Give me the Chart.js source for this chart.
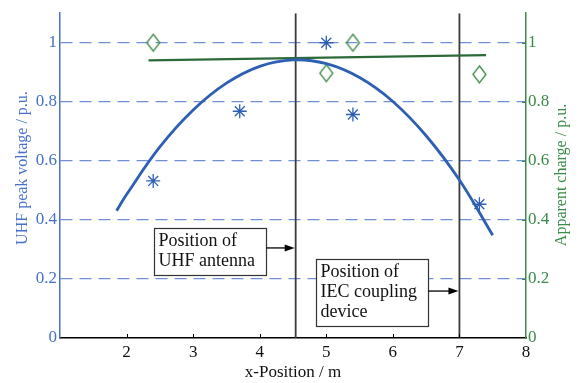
<!DOCTYPE html>
<html lang="en">
<head>
<meta charset="UTF-8">
<title>UHF peak voltage and apparent charge vs x-position</title>
<script src="https://cdn.jsdelivr.net/npm/chart.js"></script>
<style>
  html, body { margin: 0; padding: 0; background: #fff; }
</style>
</head>
<body>
<canvas id="posChart" width="579" height="383"></canvas>
<script>
// data
const fitX = [1.85, 2.0, 2.5, 3.0, 3.5, 4.0, 4.5, 5.0, 5.5, 6.0, 6.5, 7.0, 7.5];
const fitUHF = [0.431, 0.486, 0.647, 0.772, 0.863, 0.920, 0.942, 0.929, 0.882, 0.801, 0.685, 0.535, 0.348];

const measX = [2.4, 3.7, 5.0, 5.4, 7.3];
const measUHF = [0.532, 0.768, 1.0, 0.757, 0.453];

const chargeX = [2.4, 5.0, 5.4, 7.3];
const charge = [1.0, 0.897, 1.0, 0.893];

const chargeFitX = [2.33, 7.4];
const chargeFit = [0.940, 0.958];

const markerX = [4.54, 7.0]; // UHF antenna, IEC coupling device

const xTicks = [2, 3, 4, 5, 6, 7, 8];
const yTicks = [0, 0.2, 0.4, 0.6, 0.8, 1];

// annotation boxes, in data units
const notes = [
  { lines: ['Position of', 'UHF antenna'], x0: 2.41, x1: 4.09, y0: 0.373, y1: 0.215, arrowY: 0.305, target: markerX[0] },
  { lines: ['Position of', 'IEC coupling', 'device'], x0: 4.85, x1: 6.53, y0: 0.266, y1: 0.040, arrowY: 0.159, target: markerX[1] }
];

const BLUE = '#2d5fb3';
const BLUE_TXT = '#4671c6';
const GRID = '#6f90d6';
const GREEN = '#3b8a48';
const GREEN_LINE = '#2b6a36';
const FONT = "'Liberation Serif', 'Times New Roman', serif";

const pts = (xs, ys) => xs.map((v, i) => ({ x: v, y: ys[i] }));

function diamond(w, h, color) {
  const c = document.createElement('canvas');
  c.width = w + 4; c.height = h + 4;
  const g = c.getContext('2d');
  g.strokeStyle = color;
  g.lineWidth = 1.3;
  g.beginPath();
  g.moveTo(c.width / 2, 2);
  g.lineTo(c.width - 2, c.height / 2);
  g.lineTo(c.width / 2, c.height - 2);
  g.lineTo(2, c.height / 2);
  g.closePath();
  g.stroke();
  return c;
}

const overlay = {
  id: 'overlay',
  afterDatasetsDraw(chart) {
    const { ctx, scales: { x, y, y1 }, chartArea: a } = chart;
    ctx.save();

    // small inward ticks
    ctx.lineWidth = 1;
    ctx.strokeStyle = '#000';
    xTicks.slice(0, -1).forEach(v => {
      const px = Math.round(x.getPixelForValue(v)) + 0.5;
      ctx.beginPath(); ctx.moveTo(px, a.bottom); ctx.lineTo(px, a.bottom - 4); ctx.stroke();
    });
    ctx.strokeStyle = GREEN;
    yTicks.slice(1).forEach(v => {
      const py = Math.round(y1.getPixelForValue(v)) + 0.5;
      ctx.beginPath(); ctx.moveTo(a.right, py); ctx.lineTo(a.right - 4, py); ctx.stroke();
    });

    // annotation boxes with arrows
    ctx.font = '18px ' + FONT;
    ctx.textBaseline = 'middle';
    ctx.textAlign = 'left';
    notes.forEach(n => {
      const l = Math.round(x.getPixelForValue(n.x0)) + 0.5;
      const r = Math.round(x.getPixelForValue(n.x1)) + 0.5;
      const t = Math.round(y.getPixelForValue(n.y0)) + 0.5;
      const b = Math.round(y.getPixelForValue(n.y1)) + 0.5;
      ctx.fillStyle = '#fff';
      ctx.fillRect(l, t, r - l, b - t);
      ctx.strokeStyle = '#333';
      ctx.lineWidth = 1.2;
      ctx.strokeRect(l, t, r - l, b - t);
      ctx.fillStyle = '#111';
      n.lines.forEach((s, i) => ctx.fillText(s, l + 4, t + 13 + i * 20));

      const ay = y.getPixelForValue(n.arrowY);
      const tx = x.getPixelForValue(n.target) - 1;
      ctx.strokeStyle = '#000';
      ctx.lineWidth = 1.3;
      ctx.beginPath(); ctx.moveTo(r, ay); ctx.lineTo(tx - 6, ay); ctx.stroke();
      ctx.fillStyle = '#000';
      ctx.beginPath();
      ctx.moveTo(tx, ay); ctx.lineTo(tx - 10, ay - 3.5); ctx.lineTo(tx - 10, ay + 3.5);
      ctx.closePath(); ctx.fill();
    });

    // axis titles
    ctx.font = '16px ' + FONT;
    ctx.textAlign = 'center';
    ctx.fillStyle = BLUE_TXT;
    ctx.save();
    ctx.translate(23, 168);
    ctx.rotate(-Math.PI / 2);
    ctx.fillText('UHF peak voltage / p.u.', 0, 0);
    ctx.restore();
    ctx.fillStyle = GREEN;
    ctx.save();
    ctx.translate(562, 175);
    ctx.rotate(-Math.PI / 2);
    ctx.fillText('Apparent charge / p.u.', 0, 0);
    ctx.restore();

    ctx.restore();
  }
};

const ctx = document.getElementById('posChart').getContext('2d');
const posChart = new Chart(ctx, {
  type: 'scatter',
  data: {
    datasets: [
      {
        data: pts(fitX, fitUHF), showLine: true, tension: 0.4,
        borderColor: BLUE, borderWidth: 2.8, pointRadius: 0, yAxisID: 'y'
      },
      {
        data: pts(chargeFitX, chargeFit), showLine: true,
        borderColor: GREEN_LINE, borderWidth: 2.2, pointRadius: 0, yAxisID: 'y1'
      },
      {
        data: pts(measX, measUHF), pointStyle: 'star', pointRadius: 7,
        borderColor: BLUE, borderWidth: 1.3, yAxisID: 'y'
      },
      {
        data: pts(chargeX, charge), pointStyle: diamond(13, 17, GREEN), pointRadius: 8,
        yAxisID: 'y1'
      },
      {
        data: [{ x: markerX[0], y: 0 }, { x: markerX[0], y: 1.1 }], showLine: true,
        borderColor: '#3a3a3a', borderWidth: 1.8, pointRadius: 0, yAxisID: 'y'
      },
      {
        data: [{ x: markerX[1], y: 0 }, { x: markerX[1], y: 1.1 }], showLine: true,
        borderColor: '#3a3a3a', borderWidth: 1.8, pointRadius: 0, yAxisID: 'y'
      }
    ]
  },
  options: {
    responsive: false,
    animation: false,
    layout: { padding: { top: 11, left: 0, right: 0, bottom: 0 } },
    plugins: { legend: { display: false }, tooltip: { enabled: false } },
    scales: {
      x: {
        type: 'linear', min: 1, max: 8,
        afterBuildTicks: s => { s.ticks = xTicks.map(v => ({ value: v })); },
        afterFit: s => { s.height = 45; },
        grid: { display: false, drawTicks: false },
        border: { color: '#000', width: 1.5 },
        ticks: { color: '#111', padding: 4, maxRotation: 0, font: { family: FONT, size: 17 } },
        title: {
          display: true, text: 'x-Position / m', color: '#111',
          font: { family: FONT, size: 17 }, padding: { top: 0, bottom: 0 }
        }
      },
      y: {
        position: 'left', min: 0, max: 1.1,
        afterBuildTicks: s => { s.ticks = yTicks.map(v => ({ value: v })); },
        afterFit: s => { s.width = 60; },
        grid: {
          drawTicks: false, lineWidth: 1.3,
          color: c => (c.tick && c.tick.value === 0) ? 'rgba(0,0,0,0)' : GRID
        },
        border: { color: BLUE_TXT, width: 1.5, dash: [12, 7] },
        ticks: { color: BLUE_TXT, padding: 3, font: { family: FONT, size: 17 }, callback: v => String(+v.toFixed(1)) }
      },
      y1: {
        position: 'right', min: 0, max: 1.1,
        afterBuildTicks: s => { s.ticks = yTicks.map(v => ({ value: v })); },
        afterFit: s => { s.width = 53; },
        grid: { display: false, drawTicks: false },
        border: { color: GREEN, width: 1.5 },
        ticks: { color: GREEN, padding: 2, font: { family: FONT, size: 17 }, callback: v => String(+v.toFixed(1)) }
      }
    }
  },
  plugins: [overlay]
});
</script>
</body>
</html>
